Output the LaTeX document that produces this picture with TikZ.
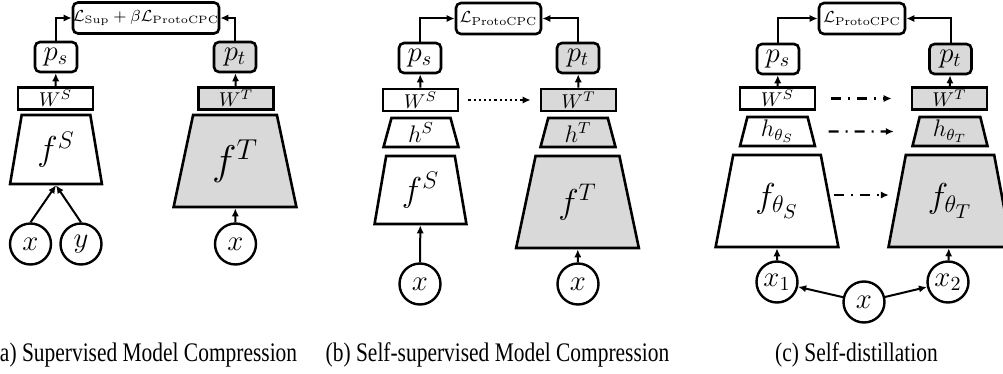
\documentclass[tikz,border=0pt]{standalone}
\usepackage{fontspec}
\newfontfamily\capfont{Liberation Serif}
\usetikzlibrary{shapes.geometric,arrows.meta}
\definecolor{tgray}{RGB}{217,217,217}

\begin{document}
\begin{tikzpicture}[x=0.5pt,y=-0.5pt,
        box/.style={draw,line width=1.3pt,inner sep=0pt},
        prob/.style={box,rounded corners=2.5pt,minimum width=21pt,minimum height=15pt,font=\Large},
        lossbox/.style={box,rounded corners=2.5pt,minimum height=15.5pt,font=\fontsize{8.3}{10}\selectfont},
        wbox/.style={box,minimum width=37.5pt,minimum height=11pt,font=\normalsize},
        var/.style={circle,draw,line width=1.2pt,inner sep=0pt,minimum size=20.5pt,font=\Large},
        enc/.style={trapezium,trapezium stretches=true,draw,line width=1.3pt,inner sep=0pt},
        small enc/.style={enc,trapezium angle=80,minimum width=46pt,minimum height=34.5pt,font=\LARGE},
        big enc/.style={enc,trapezium angle=76,minimum width=61.5pt,minimum height=46pt,font=\LARGE},
        proj/.style={enc,trapezium angle=80,minimum width=37.5pt,minimum height=14.5pt,font=\large},
        teacher/.style={fill=tgray},
        link/.style={-{Latex[length=4pt,width=3.6pt]},line width=1pt},
        dotlink/.style={link,line width=1.1pt,dash pattern=on 1.1pt off 1.5pt},
        dashdotlink/.style={link,line width=1.1pt,dash pattern=on 5pt off 3.5pt on 1pt off 3.5pt},
        capt/.style={font=\capfont\fontsize{13.4}{15}\selectfont,anchor=base}]
        \useasboundingbox (0,0) rectangle (1003,374);

        \node[lossbox,minimum width=69pt,font=\fontsize{7.6}{9}\selectfont] (lossA) at (146,18) {$\mathcal{L}_{\mathrm{Sup}}+\beta\mathcal{L}_{\mathrm{ProtoCPC}}$};
        \node[prob] (psA) at (56,57) {$p_s$};
        \node[wbox] (wsA) at (55.5,98.5) {$W^S$};
        \node[small enc] (fsA) at (56,149.5) {$f^S$};
        \node[var] (xA) at (30.5,244) {$x$};
        \node[var] (yA) at (81,244) {$y$};
        \node[prob,teacher] (ptA) at (235,57) {$p_t$};
        \node[wbox,teacher] (wtA) at (236,98.5) {$W^T$};
        \node[big enc,teacher,font=\huge] (ftA) at (235,161) {$f^T$};
        \node[var] (xtA) at (235.5,244) {$x$};

        \draw[link] (psA) |- (lossA);
        \draw[link] (ptA) |- (lossA);
        \draw[link] (wsA) -- (psA);
        \draw[link] (wtA) -- (ptA);
        \draw[link] (xA.north) -- (fsA.south);
        \draw[link] (yA.north) -- (fsA.south);
        \draw[link] (xtA) -- (ftA);

        \node[lossbox,minimum width=42.5pt] (lossB) at (498.5,18.5) {$\mathcal{L}_{\mathrm{ProtoCPC}}$};
        \node[prob] (psB) at (420,58) {$p_s$};
        \node[wbox] (wsB) at (420.5,100) {$W^S$};
        \node[proj] (hsB) at (421,132.5) {$h^S$};
        \node[small enc,minimum height=34pt] (fsB) at (420.5,190) {$f^S$};
        \node[var] (xB) at (420,284) {$x$};
        \node[prob,teacher] (ptB) at (578,58) {$p_t$};
        \node[wbox,teacher] (wtB) at (578.5,100) {$W^T$};
        \node[proj,teacher] (htB) at (578,132.5) {$h^T$};
        \node[big enc,teacher] (ftB) at (577.5,202) {$f^T$};
        \node[var] (xtB) at (578,284) {$x$};

        \draw[link] (psB) |- (lossB);
        \draw[link] (ptB) |- (lossB);
        \draw[link] (wsB) -- (psB);
        \draw[link] (wtB) -- (ptB);
        \draw[link] (xB) -- (fsB);
        \draw[link] (xtB) -- (ftB);
        \draw[dotlink,shorten <=4.5pt,shorten >=4.5pt] (wsB) -- (wtB);

        \node[lossbox,minimum width=43pt] (lossC) at (862,18.5) {$\mathcal{L}_{\mathrm{ProtoCPC}}$};
        \node[prob] (psC) at (778,59) {$p_s$};
        \node[wbox] (wsC) at (777.5,98.5) {$W^S$};
        \node[proj] (hsC) at (777.5,131.5) {$h_{\theta_S}$};
        \node[big enc] (fsC) at (777,201) {$f_{\theta_S}$};
        \node[var] (x1C) at (777,282) {$x_1$};
        \node[var] (xC) at (864,302) {$x$};
        \node[var] (x2C) at (948,282) {$x_2$};
        \node[prob,teacher] (ptC) at (950.5,59) {$p_t$};
        \node[wbox,teacher] (wtC) at (949.5,98.5) {$W^T$};
        \node[proj,teacher] (htC) at (950,131.5) {$h_{\theta_T}$};
        \node[big enc,teacher] (ftC) at (950,201) {$f_{\theta_T}$};

        \draw[link] (psC) |- (lossC);
        \draw[link] (ptC) |- (lossC);
        \draw[link] (wsC) -- (psC);
        \draw[link] (wtC) -- (ptC);
        \draw[link] (xC) -- (x1C);
        \draw[link] (xC) -- (x2C);
        \draw[link] (x1C) -- (fsC);
        \draw[link] (x2C) -- (ftC);
        \draw[dashdotlink,shorten <=7.5pt,shorten >=9.5pt] (wsC) -- (wtC);
        \draw[dashdotlink,shorten <=8pt,shorten >=10.5pt] (hsC) -- (htC);
        \draw[dashdotlink,shorten <=1.5pt,shorten >=3.5pt] ([yshift=3pt]fsC.east) -- ([yshift=3pt]ftC.west);

        \node[capt] (capA) at (145,361) {\scalebox{0.8}[1]{(a) Supervised Model Compression}};
        \node[capt] (capB) at (497.5,361) {\scalebox{0.8}[1]{(b) Self-supervised Model Compression}};
        \node[capt] (capC) at (856.5,361) {\scalebox{0.8}[1]{(c) Self-distillation}};
    \end{tikzpicture}
\end{document}
